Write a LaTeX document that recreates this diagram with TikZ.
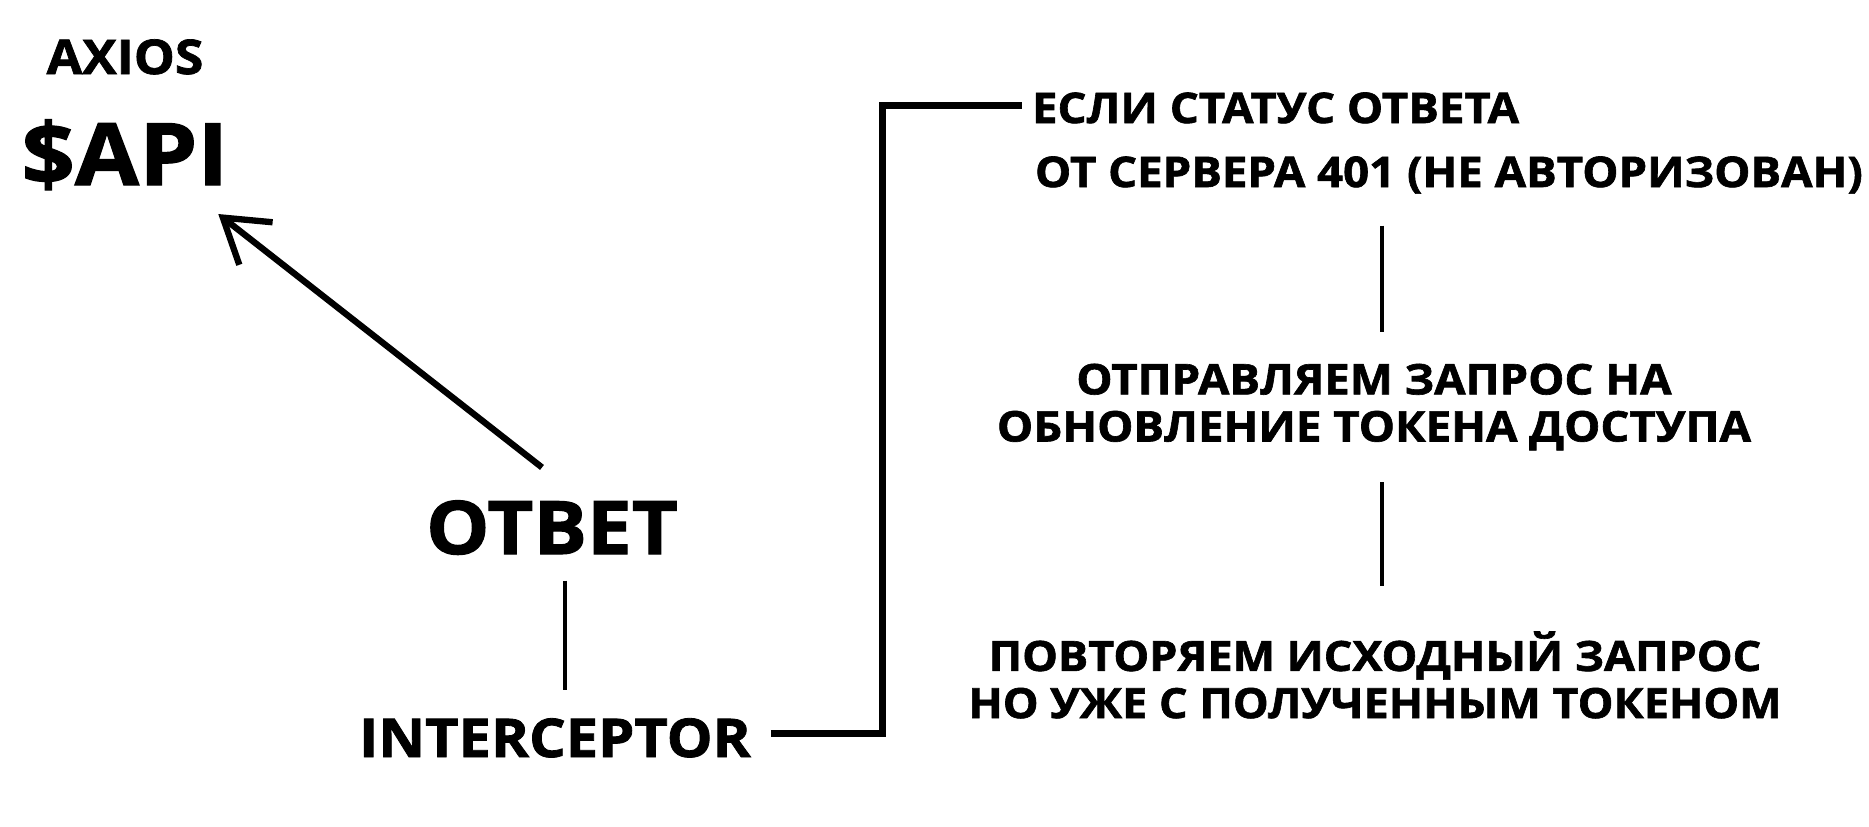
\documentclass[tikz,border=0pt]{standalone}
\usepackage{fontspec}
\setmainfont{Open Sans}[FakeStretch=1.08, BoldFeatures={FakeBold=1.5}]
\usetikzlibrary{arrows.meta,calc}

\tikzset{
  txt/.style={inner sep=0pt, outer sep=0pt},
  note/.style={txt, font=\bfseries\fontsize{12}{13.4}\selectfont},
  head/.style={txt, font=\bfseries\fontsize{13.6}{15}\selectfont},
  big/.style={txt, font=\bfseries\fontsize{24.5}{27}\selectfont},
  word/.style={txt, font=\bfseries\fontsize{21}{23}\selectfont},
  tag/.style={txt, font=\bfseries\fontsize{15.2}{17}\selectfont},
  link/.style={line width=2pt},
  stem/.style={line width=1.4pt},
  back/.style={line width=1.8pt, -{Straight Barb[length=4.2mm,width=5.4mm,line width=1.8pt]}}
}

\begin{document}
\begin{tikzpicture}[x=0.01cm,y=-0.01cm]
  \useasboundingbox (0,0) rectangle (1869,827);

  % left column
  \node[head, anchor=base] (axios) at (125,74) {AXIOS};
  \node[big, anchor=base] (api) at (125,185) {\$API};
  \node[word, anchor=base] (otvet) at (552,554) {ОТВЕТ};
  \node[tag, anchor=base] (interceptor) at (555,757) {INTERCEPTOR};

  % right column
  \node[note, anchor=base west] (status1) at (1032,123) {ЕСЛИ СТАТУС ОТВЕТА};
  \node[note, anchor=base west] (status2) at (1035,187) {ОТ СЕРВЕРА 401 (НЕ АВТОРИЗОВАН)};
  \node[note, align=center] (refresh) at (1374,407) {ОТПРАВЛЯЕМ ЗАПРОС НА\\ОБНОВЛЕНИЕ ТОКЕНА ДОСТУПА};
  \node[note, align=center, font=\bfseries\fontsize{11.85}{13.4}\selectfont] (retry) at (1375,675) {ПОВТОРЯЕМ ИСХОДНЫЙ ЗАПРОС\\НО УЖЕ С ПОЛУЧЕННЫМ ТОКЕНОМ};

  % connectors
  \draw[back] ([xshift=-1mm,yshift=3.3mm]otvet.north) -- ([xshift=-1mm,yshift=-2.4mm]api.south east);
  \draw[stem] ($(otvet.south)+(13,26)$) -- ($(interceptor.north)+(10,-28)$);
  \draw[link] ([xshift=2mm,yshift=0.4mm]interceptor.east) -- ++(112,0) |- ([xshift=-1mm,yshift=0.2mm]status1.west);
  \draw[stem] ($(status2.south -| refresh.north)+(8,32)$) -- ($(refresh.north)+(8,-32)$);
  \draw[stem] ($(refresh.south)+(8,32)$) -- ($(retry.north)+(7,-46)$);
\end{tikzpicture}
\end{document}
